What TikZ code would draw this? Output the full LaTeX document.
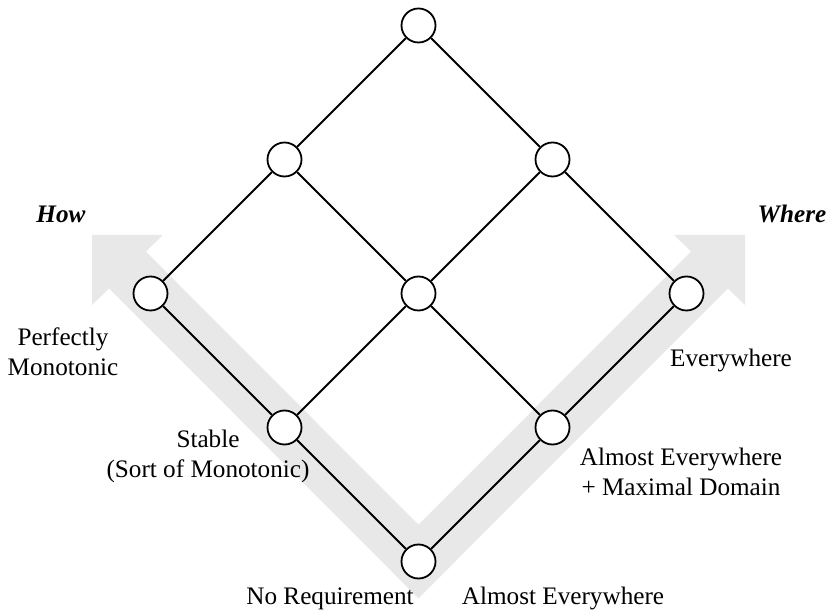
\documentclass[tikz,border=0pt]{standalone}
\usepackage{fontspec}
\setmainfont{Liberation Serif}
\usetikzlibrary{positioning,calc}
\definecolor{bandGray}{RGB}{232,232,232}
\newcommand{\diagfont}{\fontsize{12.6}{15}\selectfont}
\tikzset{
    latNode/.style={circle, draw, line width=0.9pt, fill=white, minimum size=17pt, inner sep=0pt},
    latEdge/.style={line width=0.9pt},
    axisLabel/.style={font=\diagfont\bfseries\itshape, inner sep=0pt},
    valLabel/.style={align=center, inner sep=0pt}
}
\begin{document}
\begin{tikzpicture}[x=0.5pt, y=-0.5pt, font=\diagfont]
\useasboundingbox (0,0) rectangle (828,613);

% gray axes (How / Where)
\fill[bandGray] (418.5,598.3) -- (109.1,288.4) -- (92,305) -- (92,235) -- (163,235)
    -- (145.9,251.6) -- (418.5,524.7) -- (691.1,251.6) -- (674,235) -- (745,235)
    -- (745,305) -- (727.9,288.4) -- cycle;

% lattice nodes
\foreach \i in {0,1,2}
  \foreach \j in {0,1,2}
    \node[latNode] (n\i\j) at ({418.5-134*\i+134*\j},{561.5-134*\i-134*\j}) {};

% lattice edges
\foreach \i/\k in {0/1,1/2}
  \foreach \j in {0,1,2}{
    \draw[latEdge] (n\i\j) -- (n\k\j);
    \draw[latEdge] (n\j\i) -- (n\j\k);
  }

% axis titles
\node[axisLabel, anchor=base] (how) at (61,223) {How};
\node[axisLabel, anchor=base] (where) at (792,223) {Where};

% how values
\node[valLabel, anchor=base] (noreq) at (330,604) {No Requirement};
\node[valLabel] (stable) at (208,456) {Stable\\(Sort of Monotonic)};
\node[valLabel] (perfect) at (63,352) {Perfectly\\Monotonic};

% where values
\node[valLabel, anchor=base] (ae) at (563,604) {Almost Everywhere};
\node[valLabel] (aemax) at (681,472) {Almost Everywhere\\+ Maximal Domain};
\node[valLabel, anchor=base] (every) at (731,367) {Everywhere};
\end{tikzpicture}
\end{document}
